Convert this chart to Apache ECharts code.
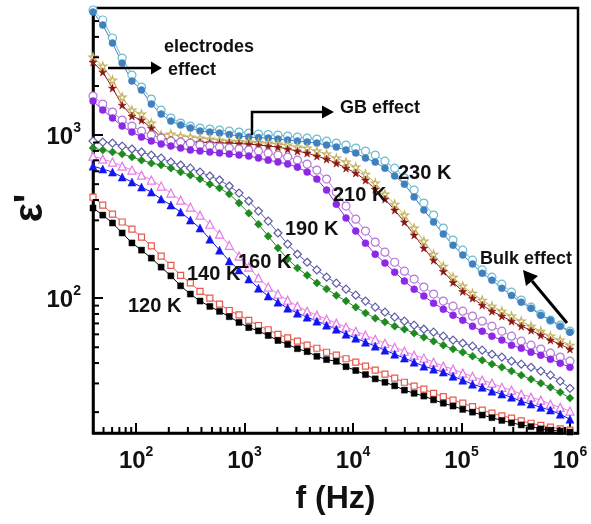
<!DOCTYPE html>
<html><head><meta charset="utf-8">
<script src="https://cdn.jsdelivr.net/npm/echarts@6/dist/echarts.min.js"></script>
<style>html,body{margin:0;padding:0;background:#fff}#c{width:591px;height:524px}</style>
</head><body><div id="c"></div>
<script>
const freq = [40,49.2,60.5,74.3,91.4,112,138,170,209,257,316,388,478,587,722,888,1092,1342,1650,2030,2495,3068,3771,4637,5700,7008,8615,10590,13020,16010,19680,24200,29750,36570,44960,55270,67950,83530,102700,126300,155200,190800,235500,289100,355600,437500,538300,660700,812800,1000000];

const k120a = [357,323,289,251,218,197,176,155,137,119,106,96,89,83,77,71,66,63,59,55,52,49,47,44,42,41,38,36,34,32,30.5,29,27.3,26.1,25.1,23.8,22.7,21.8,20.8,20,19.2,18.5,17.8,17.2,16.7,16.3,15.8,15.5,15.3,15.1];
const k120b = [417,372,328,293,265,237,209,181,159,138,124,110,100,92,84,79,73,68,64,60,57,54.5,51.5,49.3,46.6,44.7,42.5,40.5,38.3,36.2,34.2,32.3,30.5,28.9,27.7,26.1,24.9,23.7,22.7,21.6,20.6,19.7,19,18.4,17.7,17.1,16.6,16.2,15.8,15.5];
const k160a = [645,619,593,553,515,480,447,405,372,337,301,269,230,197,169,149,131,115,103,94.5,86.8,80.9,76.5,72.3,68.3,64.5,60.1,56.8,53.7,50.8,48,45.3,42.9,40.5,38.3,36.7,35.2,33.2,31.4,29.7,28.4,26.9,25.8,24.7,23.3,22.4,21.4,20.6,19.4,18.1];
const k160b = [743,712,683,645,610,568,530,487,441,399,362,323,284,247,211,181,155,133,117,106,97.2,89.3,83.2,78.7,74.3,70.3,66.4,62.7,59.3,56,52.9,50,47.3,44.7,42.9,40.5,38.3,36.7,34.7,33.2,31.4,30.1,28.4,27.3,25.8,24.7,23.7,22.4,21.4,20.3];
const k190a = [832,809,787,765,733,702,673,655,627,593,568,537,500,473,435,383,332,284,240,203,174,153,138,124,114,104,96,88,81,75.4,71.3,67.3,64.5,61,57.6,54.5,51.5,48.7,46.6,44.1,41.6,39.4,37.7,35.7,33.7,31.8,30.1,28.4,26.5,24.4];
const k190b = [919,906,893,856,821,787,754,723,683,655,627,593,561,530,487,441,394,342,297,251,214.5,186,166,149,134.5,123.6,113.5,104.3,96,88.1,82.1,76.5,72.3,68.3,64.5,61.9,58.5,55.3,52.9,50.8,48,45.3,43.5,41.1,39.4,37.7,35.7,33.7,31,28];
const k210a = [1617,1424,1272,1136,1043,972,919,881,856,832,809,798,787,776,765,754,743,723,702,683,664,636,593,537,460,377,310,258,217.5,186,164,144.4,127.2,113.5,103,93.2,85.6,78.7,73.3,67.3,62.7,58.5,55.3,51.5,49.3,46.6,44.7,42.2,39.9,37.7];
const k210b = [1735,1550,1384,1236,1136,1058,1000,958,919,906,893,868,856,844,832,821,809,798,776,754,733,702,664,610,537,447,367,305,258,220.6,191.5,166,146.4,131,117,106,96,89.3,83.2,77.6,72.3,67.3,62.7,58.5,54.5,51.5,48.7,46,43.5,41.1];
const k220a = [2805,2435,1943,1528,1308,1236,1104,972,932,919,906,906,899,893,893,886,880,868,856,844,821,798,776,743,712,673,627,585,530,466,405,347,293,244,203,171,146,125,110,100,90.6,83.2,77.6,72.3,67.3,63.6,59.3,55.3,52.2,48.7];
const k220b = [3010,2651,2175,1711,1424,1345,1185,1000,1014,986,972,958,945,932,919,912,906,899,893,880,868,844,832,798,765,723,683,636,576,508,435,377,323,269,224,186,157,134.5,118.5,107,97.2,89.3,83.2,77.6,72.3,67.3,62.7,58.5,55.3,51.5];
const k230a = [5683,4730,3667,2765,2145,1888,1550,1345,1218,1152,1104,1058,1043,1029,1007,986,972,965,958,945,932,919,906,893,868,844,809,776,723,683,627,561,500,417,347,293,247,211,184,162,142,129,115,104,94.5,86.8,78.7,73.3,67.3,61.9];
const k230b = [5848,5076,3937,2968,2334,1970,1663,1424,1272,1185,1136,1104,1088,1073,1058,1043,1029,1014,1007,1000,986,972,958,945,919,893,868,832,798,754,692,627,545,460,383,323,269,227,197,171,149,134.5,121.8,108.8,97.2,88.1,79.8,73.3,68.3,62.7];

const xMin = 40, xMax = 1186000, yMin = 14.9, yMax = 6015;
const xMinorTicks = [50,60,70,80,90,200,300,400,500,600,700,800,900,2000,3000,4000,5000,6000,7000,8000,9000,20000,30000,40000,50000,60000,70000,80000,90000,200000,300000,400000,500000,600000,700000,800000,900000];
const yMinorTicks = [20,30,40,50,60,70,80,90,200,300,400,500,600,700,800,900,2000,3000,4000,5000];

const FONT = 'Liberation Sans';
const STAR = 'path://M50,0 L61,35 L98,35 L68,57 L79,91 L50,70 L21,91 L32,57 L2,35 L39,35 Z';

function mk(vals, color, symbol, filled, size) {
  return {
    type: 'line', data: freq.map((f, i) => [f, vals[i]]),
    symbol: symbol, symbolSize: size, showAllSymbol: true,
    lineStyle: { color: color, width: 1 },
    itemStyle: filled ? { color: color, borderColor: color, borderWidth: 0.5 } : { color: '#fff', borderColor: color, borderWidth: 1.2 },
    emphasis: { disabled: true }, animation: false, z: 3
  };
}

function supFmt(v) {
  const e = Math.log10(v); const r = Math.round(e);
  if (Math.abs(e - r) > 1e-6) return '';
  return '{b|10}{s|' + r + '}';
}
const rich = {
  b: { fontSize: 24, fontWeight: 'bold', fontFamily: FONT, color: '#111', lineHeight: 28, verticalAlign: 'bottom' },
  s: { fontSize: 14, fontWeight: 'bold', fontFamily: FONT, color: '#111', lineHeight: 16, verticalAlign: 'top' }
};

function txt(s, x, y, size) {
  return { type: 'text', left: x, top: y - size * 0.6, style: { text: s, font: 'bold ' + size + 'px "' + FONT + '"', fill: '#111' }, z: 20 };
}

const annotations = [
  txt('electrodes', 164, 49, 18),
  txt('effect', 168, 72, 18),
  { type: 'line', shape: { x1: 108, y1: 68, x2: 152, y2: 68 }, style: { stroke: '#000', lineWidth: 2.5 }, z: 20 },
  { type: 'polygon', shape: { points: [[151, 61.5], [162, 68], [151, 74.5]] }, style: { fill: '#000' }, z: 20 },
  txt('GB effect', 340, 110, 18),
  { type: 'polyline', shape: { points: [[252, 135], [252, 112], [323, 112]] }, style: { stroke: '#000', lineWidth: 2.5, fill: null }, z: 20 },
  { type: 'polygon', shape: { points: [[322, 105.5], [334, 112], [322, 118.5]] }, style: { fill: '#000' }, z: 20 },
  txt('230 K', 398, 175, 20),
  txt('210 K', 333, 197, 20),
  txt('190 K', 285, 231, 20),
  txt('160 K', 238, 264, 20),
  txt('140 K', 187, 276, 20),
  txt('120 K', 128, 308, 20),
  txt('Bulk effect', 480, 261, 18),
  { type: 'line', shape: { x1: 567, y1: 323, x2: 532, y2: 281 }, style: { stroke: '#000', lineWidth: 3 }, z: 20 },
  { type: 'polygon', shape: { points: [[523, 270], [538, 276], [526, 286]] }, style: { fill: '#000' }, z: 20 },
  { type: 'text', x: 31, y: 208, rotation: Math.PI / 2, style: { text: "ε'", font: 'bold 40px "' + FONT + '"', fill: '#111', align: 'center', verticalAlign: 'middle' }, z: 20 }
];

const chart = echarts.init(document.getElementById('c'), null, { renderer: 'canvas' });
chart.setOption({
  backgroundColor: '#fff',
  animation: false,
  grid: { left: 93, top: 8, width: 485, height: 425, containLabel: false, outerBoundsMode: 'none', show: true, borderColor: '#000', borderWidth: 2.5, backgroundColor: 'transparent' },
  xAxis: {
    type: 'log', logBase: 10, min: xMin, max: xMax,
    axisLine: { lineStyle: { color: '#000', width: 2.5 } },
    axisTick: { inside: true, length: 10, lineStyle: { color: '#000', width: 2 } },
    splitLine: { show: false },
    axisLabel: { formatter: supFmt, rich: rich, margin: 12, showMinLabel: false, showMaxLabel: false },
    name: 'f (Hz)', nameLocation: 'middle', nameGap: 50,
    nameTextStyle: { fontSize: 32, fontWeight: 'bold', fontFamily: FONT, color: '#111' }
  },
  yAxis: {
    type: 'log', logBase: 10, min: yMin, max: yMax,
    axisLine: { lineStyle: { color: '#000', width: 2.5 } },
    axisTick: { inside: true, length: 10, lineStyle: { color: '#000', width: 2 } },
    splitLine: { show: false },
    axisLabel: { formatter: supFmt, rich: rich, margin: 12, showMinLabel: false, showMaxLabel: false }
  },
  series: [
    mk(k230b, '#6fbcd2', 'circle', false, 8),
    mk(k230a, '#3f80bf', 'circle', true, 7),
    mk(k220b, '#c4b35e', STAR, false, 8),
    mk(k220a, '#8b1414', STAR, true, 8),
    mk(k210b, '#b37ad8', 'circle', false, 8),
    mk(k210a, '#8c28e6', 'circle', true, 7),
    mk(k190b, '#5c5ca8', 'diamond', false, 8),
    mk(k190a, '#1f8a1f', 'diamond', true, 8),
    mk(k160b, '#e77be6', 'triangle', false, 8),
    mk(k160a, '#1414f0', 'triangle', true, 8),
    mk(k120b, '#e45a50', 'rect', false, 6),
    mk(k120a, '#000000', 'rect', true, 6)
  ]
});

// minor ticks positioned through the chart's own log scales
const gridRect = chart.getModel().getComponent('grid', 0).coordinateSystem.getRect();
const yb = gridRect.y + gridRect.height, xl = gridRect.x;
const tickEls = [];
xMinorTicks.forEach(v => {
  const px = chart.convertToPixel({ xAxisIndex: 0 }, v);
  tickEls.push({ type: 'line', shape: { x1: px, y1: yb, x2: px, y2: yb - 6 }, style: { stroke: '#000', lineWidth: 2 }, z: 30 });
});
yMinorTicks.forEach(v => {
  const py = chart.convertToPixel({ yAxisIndex: 0 }, v);
  tickEls.push({ type: 'line', shape: { x1: xl, y1: py, x2: xl + 6, y2: py }, style: { stroke: '#000', lineWidth: 2 }, z: 30 });
});
chart.setOption({ graphic: annotations.concat(tickEls) });
</script></body></html>
